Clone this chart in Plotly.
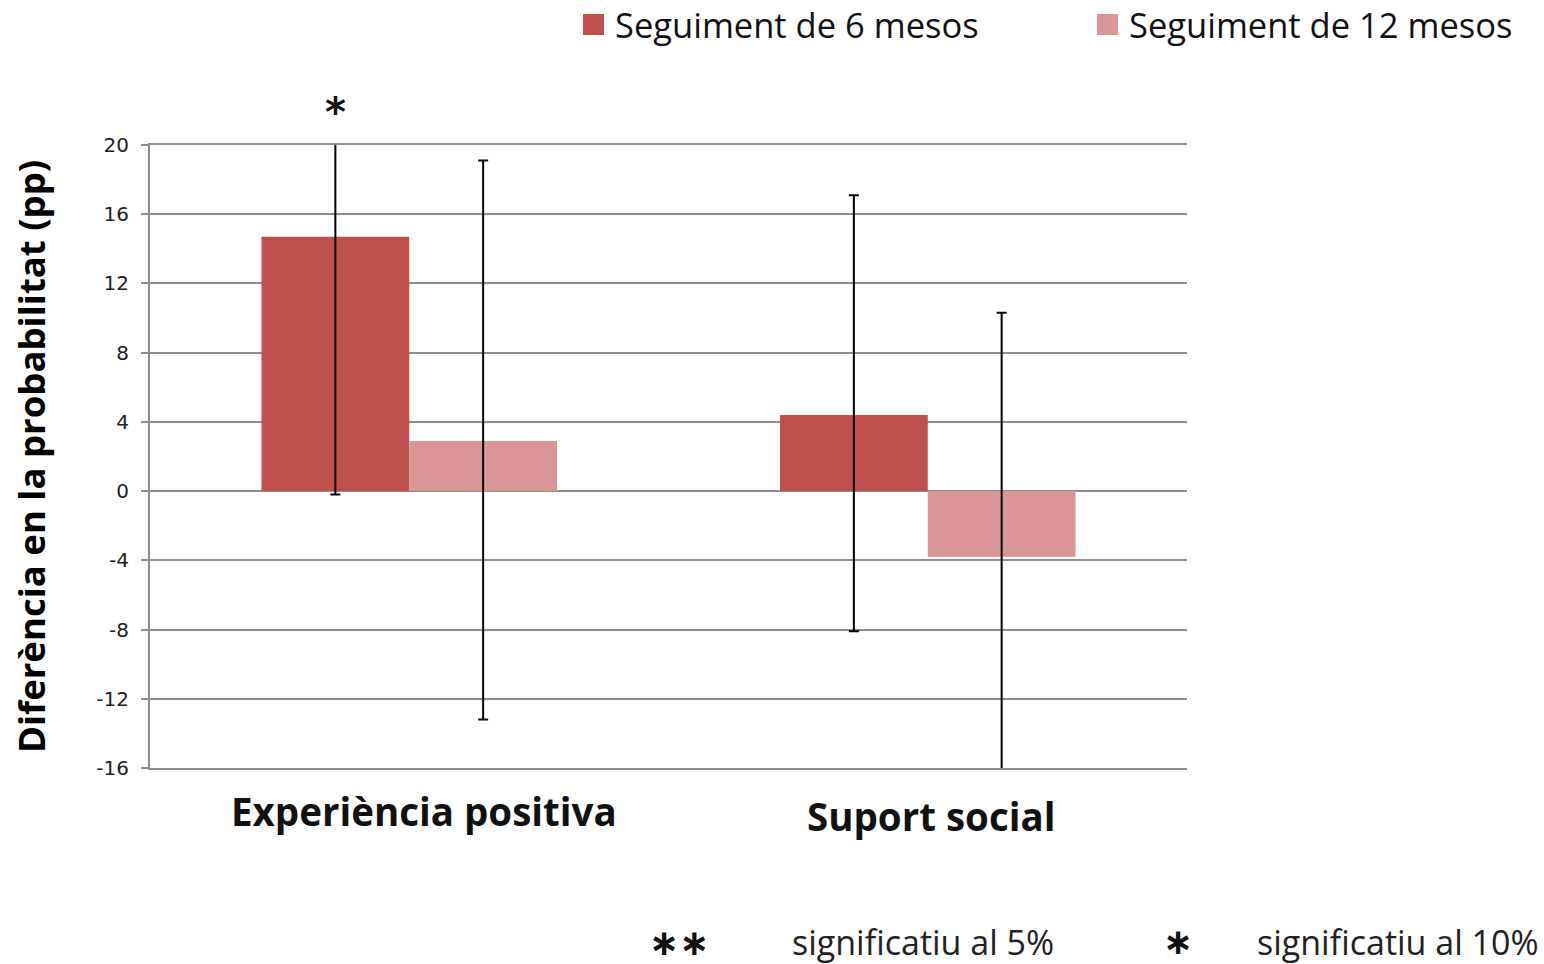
import plotly.graph_objects as go

categories = ["Experiència positiva", "Suport social"]
series_names = ["Seguiment de 6 mesos", "Seguiment de 12 mesos"]
values_6m = [14.7, 4.4]
values_12m = [2.9, -3.8]
ci_low_6m = [-0.2, -8.1]
ci_high_6m = [29.6, 17.1]
ci_low_12m = [-13.2, -17.9]
ci_high_12m = [19.1, 10.3]
y_ticks = [20, 16, 12, 8, 4, 0, -4, -8, -12, -16]
colors = ["#C0504D", "#D99694"]

W, H = 1544, 964
L, R, T, B = 150, 1187, 145, 768
BARGAP = 0.43

def px(x):
    return (x - L) / (R - L)

def py(y):
    return (B - y) / (B - T)

fig = go.Figure()
for name, vals, lo, hi, col in [
    (series_names[0], values_6m, ci_low_6m, ci_high_6m, colors[0]),
    (series_names[1], values_12m, ci_low_12m, ci_high_12m, colors[1]),
]:
    fig.add_trace(go.Bar(
        name=name, x=categories, y=vals, marker_color=col,
        marker_line_width=0, showlegend=False,
        error_y=dict(type="data", symmetric=False,
                     array=[h - v for h, v in zip(hi, vals)],
                     arrayminus=[v - l for v, l in zip(vals, lo)],
                     color="black", thickness=2, width=5),
    ))

txt = "Open Sans, sans-serif"
annotations = []
shapes = []
# legend
for i, (x0, tx) in enumerate([(583, 613), (1097, 1127)]):
    shapes.append(dict(type="rect", xref="paper", yref="paper",
                       x0=px(x0), x1=px(x0 + 21), y0=py(35), y1=py(14),
                       fillcolor=colors[i], line_width=0))
    annotations.append(dict(text=series_names[i], xref="paper", yref="paper",
                            x=px(tx), y=py(24), xanchor="left", yanchor="middle",
                            showarrow=False, font=dict(family=txt, size=34.5, color="#111")))
# category labels
cat_font = dict(family=txt, size=38.5, color="#111", weight="bold")
for i, (xs, yc) in enumerate([(15, 811), (3, 816)]):
    annotations.append(dict(text=categories[i], xref="x", yref="paper", x=i, xshift=xs,
                            y=py(yc), xanchor="center", yanchor="middle",
                            showarrow=False, font=cat_font))
# significance star above first bar
offset = (1 - BARGAP) / 4
star_font = dict(family="DejaVu Sans", size=40, color="#111", weight="bold")
annotations.append(dict(text="*", xref="x", yref="paper", x=0 - offset, y=py(112),
                        xanchor="center", yanchor="middle", showarrow=False, font=star_font))
# bottom notes
star2 = dict(family="DejaVu Sans", size=36, color="#111", weight="bold")
annotations += [
    dict(text="∗∗", xref="paper", yref="paper", x=px(679), y=py(942), xanchor="center",
         yanchor="middle", showarrow=False, font=star2),
    dict(text="significatiu al 5%", xref="paper", yref="paper", x=px(790), y=py(942), xanchor="left",
         yanchor="middle", showarrow=False, font=dict(family=txt, size=34, color="#222")),
    dict(text="∗", xref="paper", yref="paper", x=px(1178), y=py(941), xanchor="center",
         yanchor="middle", showarrow=False, font=star2),
    dict(text="significatiu al 10%", xref="paper", yref="paper", x=px(1255), y=py(942), xanchor="left",
         yanchor="middle", showarrow=False, font=dict(family=txt, size=34, color="#222")),
]

fig.update_layout(
    width=W, height=H, barmode="group", bargap=BARGAP, bargroupgap=0,
    margin=dict(l=L, r=W - R, t=T, b=H - B, pad=0),
    plot_bgcolor="white", paper_bgcolor="white",
    annotations=annotations, shapes=shapes,
    xaxis=dict(showgrid=False, showline=True, mirror=True, linecolor="#8c8c8c", linewidth=2,
               ticks="", showticklabels=False),
    yaxis=dict(range=[-16, 20], tickvals=y_ticks, ticktext=[str(v) for v in y_ticks],
               showgrid=True, gridcolor="#8c8c8c", gridwidth=2,
               showline=True, linecolor="#8c8c8c", linewidth=2,
               ticks="outside", ticklen=7, tickcolor="#8c8c8c", tickwidth=2,
               ticklabelstandoff=8,
               zeroline=False, tickfont=dict(family="DejaVu Sans", size=20, color="#222"),
               title=dict(text="Diferència en la probabilitat (pp)", standoff=40,
                          font=dict(family=txt, size=36.5, color="#000", weight="bold"))),
)

fig.write_html("out.html", config={"displayModeBar": False},
               post_script="document.body.style.margin='0px';")
